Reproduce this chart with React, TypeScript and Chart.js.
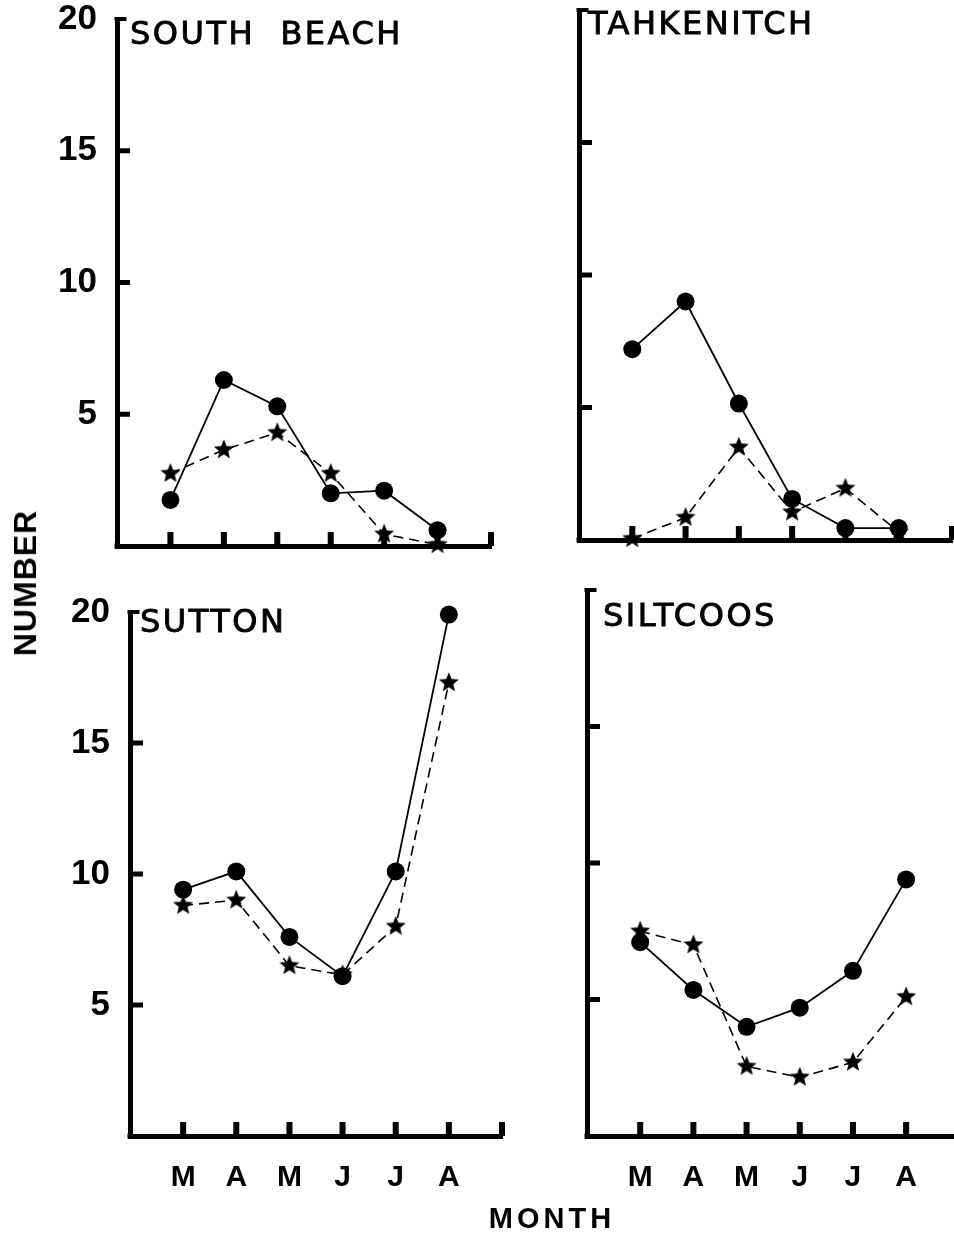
import React, { useEffect, useRef } from 'react';
import { Chart, registerables } from 'chart.js';

Chart.register(...registerables);

// ---- data ----
const MONTHS = ['M', 'A', 'M', 'J', 'J', 'A'];
const MONTH_POS = [1, 2, 3, 4, 5, 6];
const Y_TICKS = [5, 10, 15];

const SOUTH_BEACH_CIRCLES = [1.75, 6.3, 5.3, 2.0, 2.1, 0.6];
const SOUTH_BEACH_STARS = [2.75, 3.65, 4.3, 2.75, 0.45, 0.05];
const TAHKENITCH_CIRCLES = [7.2, 9.0, 5.15, 1.55, 0.45, 0.45];
const TAHKENITCH_STARS = [0.05, 0.85, 3.5, 1.05, 1.95, 0.3];
const SUTTON_CIRCLES = [9.4, 10.1, 7.6, 6.1, 10.1, 19.9];
const SUTTON_STARS = [8.8, 9.0, 6.5, 6.15, 8.0, 17.3];
const SILTCOOS_CIRCLES = [7.1, 5.35, 4.0, 4.7, 6.05, 9.4];
const SILTCOOS_STARS = [7.5, 7.0, 2.55, 2.15, 2.7, 5.1];

const TITLES = ['SOUTH  BEACH', 'TAHKENITCH', 'SUTTON', 'SILTCOOS'];
const SERIES_CIRCLES = [SOUTH_BEACH_CIRCLES, TAHKENITCH_CIRCLES, SUTTON_CIRCLES, SILTCOOS_CIRCLES];
const SERIES_STARS = [SOUTH_BEACH_STARS, TAHKENITCH_STARS, SUTTON_STARS, SILTCOOS_STARS];

// ---- layout (page pixels) ----
type Layout = {
  left: number; top: number; width: number; height: number;
  yAxisW: number; padTop: number; padRight: number; xAxisH: number;
  xMax: number; yLabels: boolean; xLabels: boolean; endTick: boolean;
  titleDx: number; titleDy: number;
};

const LAYOUTS: Layout[] = [
  { left: 0, top: 0, width: 520, height: 570, yAxisW: 117, padTop: 19, padRight: 29, xAxisH: 24, xMax: 7, yLabels: true, xLabels: false, endTick: true, titleDx: 13, titleDy: 17 },
  { left: 520, top: 0, width: 434, height: 570, yAxisW: 59, padTop: 10, padRight: 2, xAxisH: 30, xMax: 7, yLabels: false, xLabels: false, endTick: true, titleDx: 9, titleDy: 16 },
  { left: 0, top: 580, width: 520, height: 658, yAxisW: 130, padTop: 32, padRight: 18, xAxisH: 102, xMax: 7, yLabels: true, xLabels: true, endTick: true, titleDx: 10, titleDy: 12 },
  { left: 520, top: 580, width: 434, height: 658, yAxisW: 67, padTop: 10, padRight: 0, xAxisH: 102, xMax: 6.9, yLabels: false, xLabels: true, endTick: false, titleDx: 16, titleDy: 28 },
];

function makeStar(size = 24, outer = 10.5, inner = 4.6): HTMLCanvasElement {
  const c = document.createElement('canvas');
  c.width = size;
  c.height = size;
  const g = c.getContext('2d')!;
  g.fillStyle = '#000';
  g.beginPath();
  for (let i = 0; i < 10; i++) {
    const r = i % 2 ? inner : outer;
    const ang = -Math.PI / 2 + (i * Math.PI) / 5;
    g.lineTo(size / 2 + r * Math.cos(ang), size / 2 + r * Math.sin(ang));
  }
  g.closePath();
  g.fill();
  return c;
}

const decorPlugin = {
  id: 'decor',
  afterDraw(chart: any, _args: any, opts: any) {
    const { ctx, chartArea: a, scales } = chart;
    const x = scales.x;
    const y = scales.y;
    ctx.save();
    ctx.fillStyle = '#000';
    ctx.strokeStyle = '#000';
    for (const v of Y_TICKS) {
      const py = y.getPixelForValue(v);
      ctx.fillRect(a.left, py - 2.5, 13, 5);
    }
    const xs = opts.endTick ? [...MONTH_POS, 7] : MONTH_POS;
    for (const v of xs) {
      const px = x.getPixelForValue(v);
      ctx.fillRect(px - 3, a.bottom - 14, 6, 14);
    }
    ctx.fillRect(a.left - 2.5, a.top - 2, 12, 4);
    ctx.fillRect(a.left - 2.5, a.bottom - 2.5, 5, 5);
    ctx.font = '32px "DejaVu Sans", Arial, sans-serif';
    try { (ctx as any).letterSpacing = '2.5px'; } catch (e) { /* ignore */ }
    ctx.textBaseline = 'middle';
    ctx.textAlign = 'left';
    ctx.lineWidth = 0.9;
    ctx.fillText(opts.title, a.left + opts.titleDx, a.top + opts.titleDy);
    ctx.strokeText(opts.title, a.left + opts.titleDx, a.top + opts.titleDy);
    ctx.restore();
  },
};

function zeroPad(s: any) {
  s.paddingTop = 0;
  s.paddingBottom = 0;
  s.paddingLeft = 0;
  s.paddingRight = 0;
}

function Panel({ idx }: { idx: number }) {
  const ref = useRef<HTMLCanvasElement | null>(null);
  const L = LAYOUTS[idx];
  useEffect(() => {
    if (!ref.current) return;
    const star = makeStar();
    const circles = SERIES_CIRCLES[idx].map((v, i) => ({ x: MONTH_POS[i], y: v }));
    const stars = SERIES_STARS[idx].map((v, i) => ({ x: MONTH_POS[i], y: v }));
    const chart = new Chart(ref.current, {
      type: 'line',
      data: {
        datasets: [
          {
            label: 'stars',
            data: stars,
            borderColor: '#000',
            borderWidth: 1.6,
            borderDash: [10, 6],
            pointStyle: star as any,
            pointRadius: 10,
            backgroundColor: '#000',
            clip: false as any,
          },
          {
            label: 'circles',
            data: circles,
            borderColor: '#000',
            borderWidth: 1.8,
            pointStyle: 'circle',
            pointRadius: 9,
            pointBorderWidth: 0,
            backgroundColor: '#000',
            pointBackgroundColor: '#000',
            clip: false as any,
          },
        ],
      },
      options: {
        responsive: false,
        animation: false,
        events: [],
        layout: { autoPadding: false, padding: { top: L.padTop, right: L.padRight, left: 0, bottom: 0 } },
        plugins: {
          legend: { display: false },
          tooltip: { enabled: false },
          decor: { title: TITLES[idx], endTick: L.endTick, titleDx: L.titleDx, titleDy: L.titleDy },
        } as any,
        scales: {
          x: {
            type: 'linear',
            min: 0,
            max: L.xMax,
            grid: { drawOnChartArea: false, drawTicks: false, display: false },
            border: { display: true, color: '#000', width: 5 },
            ticks: {
              display: L.xLabels,
              stepSize: 1,
              includeBounds: false,
              autoSkip: false,
              maxRotation: 0,
              padding: 24,
              color: '#000',
              font: { family: '"Liberation Sans", Arial, sans-serif', size: 30, weight: 'bold' },
              callback: (v: any) => MONTHS[Number(v) - 1] ?? '',
            },
            afterFit: (s: any) => { s.height = L.xAxisH; zeroPad(s); },
          },
          y: {
            type: 'linear',
            min: 0,
            max: 20,
            grid: { drawOnChartArea: false, drawTicks: false, display: false },
            border: { display: true, color: '#000', width: 5 },
            ticks: {
              display: L.yLabels,
              stepSize: 5,
              padding: 20,
              color: '#000',
              font: { family: '"Liberation Sans", Arial, sans-serif', size: 35, weight: 'bold' },
              callback: (v: any) => (Number(v) === 0 ? '' : String(v)),
            },
            afterFit: (s: any) => { s.width = L.yAxisW; zeroPad(s); },
          },
        },
      } as any,
      plugins: [decorPlugin as any],
    });
    return () => chart.destroy();
  }, [idx]);
  return (
    <canvas
      ref={ref}
      width={L.width}
      height={L.height}
      style={{ position: 'absolute', left: L.left, top: L.top, width: L.width, height: L.height }}
    />
  );
}

export default function App() {
  return (
    <div style={{ position: 'absolute', left: 0, top: 0, width: 954, height: 1238, background: '#fff', overflow: 'hidden' }}>
      {[0, 1, 2, 3].map((i) => (
        <Panel key={i} idx={i} />
      ))}
      <div
        style={{
          position: 'absolute', left: 25, top: 583, transform: 'translate(-50%, -50%) rotate(-90deg)',
          fontFamily: '"Liberation Sans", Arial, sans-serif', fontWeight: 'bold', fontSize: 32,
          letterSpacing: '1px', whiteSpace: 'nowrap', lineHeight: 1, color: '#000',
        }}
      >
        NUMBER
      </div>
      <div
        style={{
          position: 'absolute', left: 552, top: 1218, transform: 'translate(-50%, -50%)',
          fontFamily: '"Liberation Sans", Arial, sans-serif', fontWeight: 'bold', fontSize: 29,
          letterSpacing: '4px', whiteSpace: 'nowrap', lineHeight: 1, color: '#000',
        }}
      >
        MONTH
      </div>
    </div>
  );
}
